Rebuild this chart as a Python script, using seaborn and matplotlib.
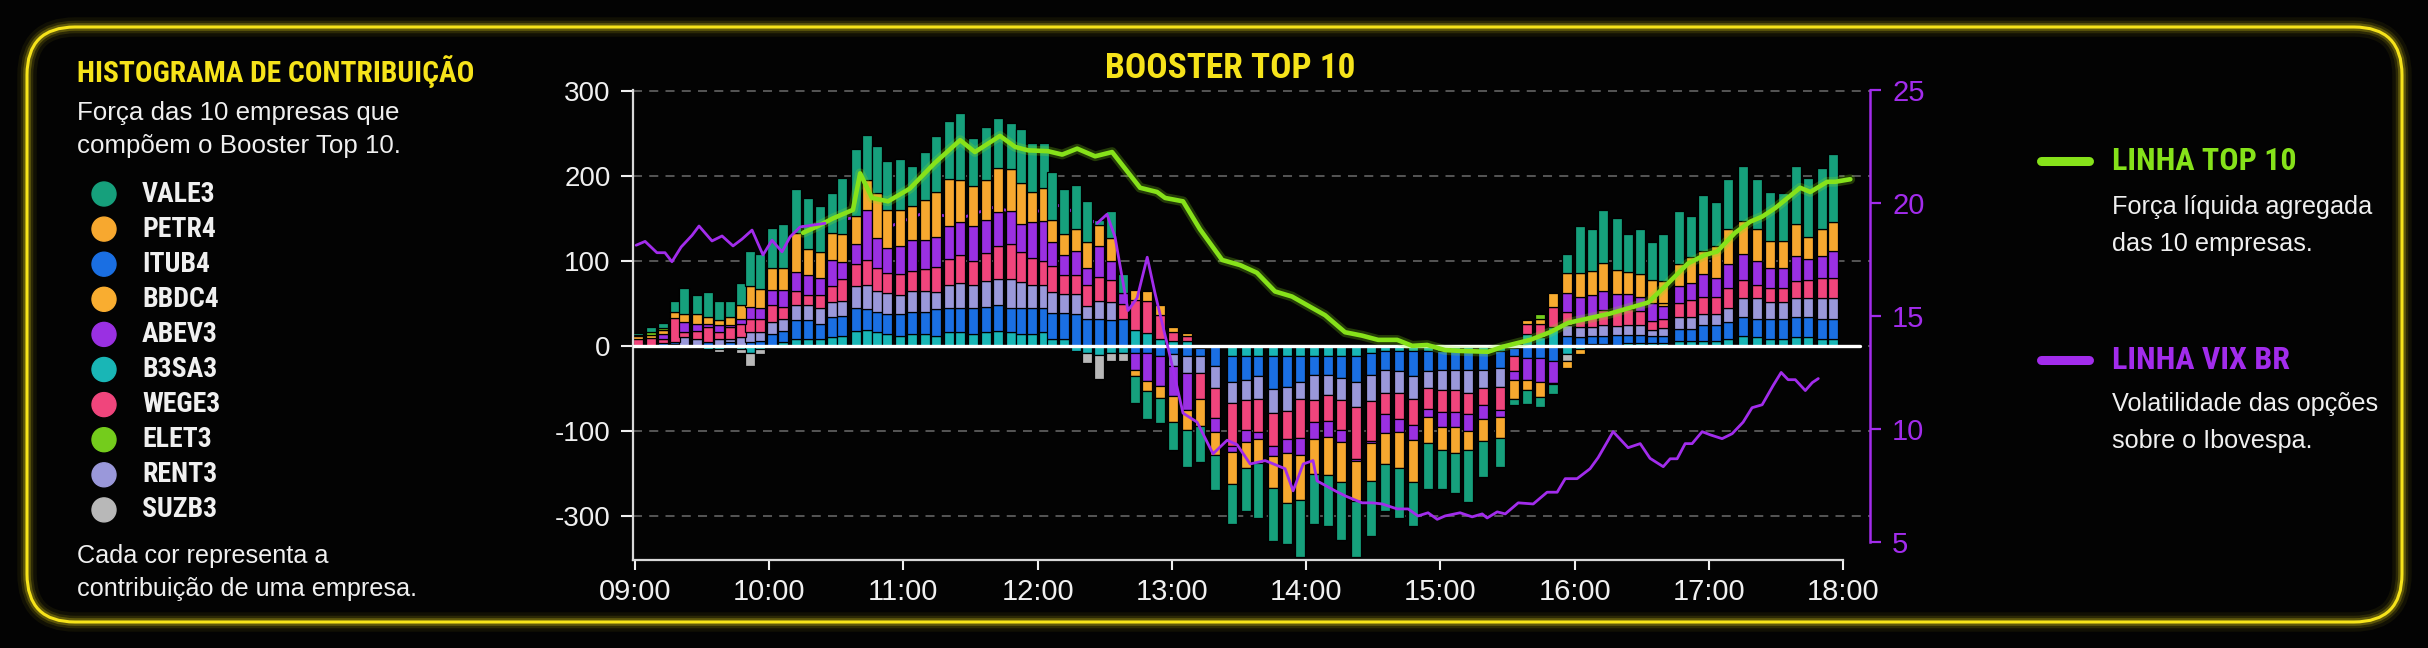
import numpy as np
import matplotlib
matplotlib.use("Agg")
import matplotlib.pyplot as plt
import seaborn as sns
import matplotlib.patheffects as pe
from matplotlib.patches import FancyBboxPatch, Circle
from matplotlib.lines import Line2D
from matplotlib.transforms import IdentityTransform
from matplotlib import font_manager as fm

# ---------------- DATA ----------------
companies = ["VALE3", "PETR4", "ITUB4", "BBDC4", "ABEV3", "B3SA3", "WEGE3", "ELET3", "RENT3", "SUZB3"]
company_colors = ["#16a07c", "#f7a82f", "#1a6fe3", "#f9ad30", "#9a30e2", "#19b6b6", "#f0457c", "#74cc1c", "#9a98da", "#b8b8b8"]
stack_order = ["B3SA3", "ITUB4", "RENT3", "SUZB3", "WEGE3", "ABEV3", "BBDC4", "PETR4", "ELET3", "VALE3"]

# bar times in minutes after 09:00
bar_minutes = [1.5, 7.3, 12.6, 18.0, 22.0, 27.8, 32.7, 37.7, 42.6, 47.5,
               51.5, 56.0, 61.3, 66.3, 72.1, 77.4, 82.8, 88.2, 92.6, 98.9,
               103.8, 108.3, 112.7, 118.5, 123.9, 129.7, 134.6, 140.4, 145.4, 151.2,
               157.0, 162.3, 168.2, 172.6, 177.5, 182.9, 186.5, 191.8, 197.2, 202.1,
               207.5, 212.9, 218.2, 223.6, 228.9, 234.7, 240.6, 246.8, 252.6, 259.3,
               266.9, 273.2, 278.5, 285.3, 291.5, 297.3, 303.6, 309.8, 315.6, 322.3,
               329.0, 335.3, 341.6, 347.8, 354.5, 360.8, 366.6, 372.4, 379.1, 386.7,
               393.0, 398.8, 404.6, 410.4, 416.7, 422.5, 427.8, 432.7, 439.0, 443.9,
               449.3, 454.6, 459.6, 466.7, 472.1, 477.4, 483.2, 488.6, 495.3, 501.6,
               507.4, 513.2, 519.0, 524.4, 530.6, 535.5]

B3SA3 = [0, 0, 0, 2, 0, 0, -4, -4, -3, -4,
         -8, -4, 0, 4, 8, 8, 8, 10, 12, 18,
         19, 16, 14, 12, 14, 14, 12, 16, 16, 14,
         16, 18, 16, 14, 14, 16, 8, 8, -6, -8,
         -11, -8, -8, 19, 15, 8, 6, 6, -2, 0,
         -12, -12, -12, -12, -12, -12, -12, -12, -12, -12,
         -8, -6, -6, -6, -6, -6, -6, -6, -6, -6,
         -2, 14, 10, 22, -10, -4, 2, 2, 1, 3,
         3, 3, 3, 6, 6, 6, 6, 8, 12, 10,
         8, 8, 10, 10, 8, 8]
ITUB4 = [0, 0, 3, 3, 0, 0, 4, 0, 4, 0,
         4, 6, 14, 14, 22, 22, 18, 24, 23, 26,
         24, 24, 24, 26, 26, 26, 31, 28, 28, 30,
         30, 30, 28, 30, 30, 28, 31, 31, 37, 31,
         31, 30, 31, -8, -8, -12, -10, -12, -10, -24,
         -31, -28, -24, -39, -37, -31, -22, -22, -26, -30,
         -26, -22, -24, -30, -24, -22, -22, -22, -22, -20,
         -10, -14, -14, -18, 12, 10, 10, 10, 12, 10,
         10, 8, 8, 14, 14, 18, 18, 20, 22, 22,
         24, 24, 24, 24, 24, 24]
RENT3 = [0, 0, 0, 0, 10, 8, 0, 8, 4, 10,
         12, 10, 14, 14, 18, 18, 18, 18, 18, 26,
         28, 24, 24, 22, 24, 24, 20, 28, 30, 28,
         30, 31, 35, 31, 28, 28, 24, 22, 24, 16,
         22, 22, 0, 0, 0, 0, -14, -20, -20, -26,
         -24, -24, -26, -28, -28, -20, -30, -24, -26, -30,
         -31, -28, -26, -26, -20, -24, -24, -28, -22, -22,
         0, 0, 0, 0, 12, 12, 10, 12, 10, 12,
         12, 8, 10, 14, 14, 14, 14, 16, 22, 24,
         20, 20, 22, 22, 24, 24]
SUZB3 = [0, 0, 0, 0, 0, 0, 0, -3, 0, -4,
         -16, -6, 0, 0, 0, 0, 0, 0, 0, 0,
         0, 0, 0, 0, 0, 0, 0, 0, 0, 0,
         0, 0, 0, 0, 0, 0, 0, 0, 0, -12,
         -28, -10, -10, 0, 0, 0, 0, 0, 0, 0,
         0, 0, 0, 0, 0, 0, 0, 0, 0, 0,
         0, 0, 0, 0, 0, 0, 0, 0, 0, 0,
         0, 0, 0, 0, -8, 0, 0, 0, 0, 0,
         0, 0, 0, 0, 0, 0, 0, 0, 0, 0,
         0, 0, 0, 0, 0, 0]
WEGE3 = [8, 9, 5, 28, 6, 10, 18, 8, 14, 16,
         16, 15, 20, 14, 16, 12, 16, 18, 26, 26,
         30, 28, 24, 24, 24, 26, 30, 30, 33, 28,
         33, 39, 41, 35, 31, 28, 31, 22, 22, 24,
         28, 26, 18, 35, 38, 28, 10, 6, -31, -35,
         -51, -35, -39, -39, -33, -45, -26, -31, -35, -61,
         -47, -24, -30, -31, -24, -26, -26, -24, -20, -28,
         -18, 12, 16, 24, 16, 10, 12, 18, 18, 18,
         16, 10, 10, 16, 20, 20, 20, 24, 22, 16,
         16, 16, 20, 22, 24, 24]
ABEV3 = [0, 0, 6, 0, 12, 8, 4, 8, 2, 6,
         14, 13, 18, 20, 23, 23, 20, 31, 20, 24,
         59, 35, 29, 33, 37, 35, 35, 39, 39, 41,
         39, 39, 39, 33, 43, 47, 28, 24, 28, 20,
         37, 22, 13, -20, -33, -35, -35, -43, 0, -16,
         -7, -14, -9, -12, -16, -20, -20, -18, -14, -3,
         -2, -22, -15, -18, -10, -18, -18, -20, -16, -8,
         -10, -26, -28, -26, 22, 26, 26, 22, 20, 18,
         16, 21, 16, 20, 20, 26, 22, 28, 30, 28,
         24, 24, 30, 24, 26, 31]
BBDC4 = [0, 0, 0, 0, 0, 0, 0, 0, 0, 0,
         0, 0, 0, 0, 0, 0, 0, 0, 0, 0,
         0, 0, 0, 0, 0, 0, 0, 0, 0, 0,
         0, 0, 0, 0, 0, 0, 0, 0, 0, 0,
         0, 0, 0, 12, 12, 12, 6, 3, 0, 0,
         0, 0, 0, 0, 0, 0, 0, 0, 0, 0,
         0, 0, 0, 0, 0, 0, 0, 0, 0, 0,
         0, 4, 5, 16, -8, -6, 0, 0, 0, 0,
         0, 0, 3, 0, 0, 0, 0, 0, 0, 0,
         0, 0, 0, 0, 0, 0]
PETR4 = [3, 4, 5, 7, 10, 11, 8, 6, 10, 16,
         24, 23, 26, 26, 46, 31, 30, 32, 33, 33,
         35, 53, 45, 43, 39, 47, 53, 55, 49, 47,
         47, 52, 49, 49, 35, 39, 26, 25, 27, 31,
         24, 27, 0, -8, -12, -14, -31, -24, -31, -28,
         -37, -31, -28, -37, -59, -53, -41, -45, -47, -47,
         -45, -37, -43, -49, -30, -26, -30, -22, -26, -24,
         -22, -12, -18, -1, 24, 28, 28, 34, 28, 26,
         28, 27, 26, 26, 30, 28, 37, 41, 39, 37,
         31, 31, 37, 26, 31, 35]
ELET3 = [2, 3, 2, 0, 0, 0, 0, 0, 0, 0,
         0, 0, 0, 0, 0, 0, 0, 0, 0, 0,
         0, 0, 0, 0, 0, 0, 0, 0, 0, 0,
         0, 0, 0, 0, 0, 0, 0, 0, 0, 0,
         0, 0, 0, 0, 0, 0, 0, 0, 0, 0,
         0, 0, 0, 0, 0, 0, 0, 0, 0, 0,
         0, 0, 0, 0, 0, 0, 0, 0, 0, 0,
         0, 0, 6, 0, 0, 0, 0, 0, 0, 0,
         0, 0, 0, 0, 0, 0, 0, 0, 0, 0,
         0, 0, 0, 0, 0, 0]
VALE3 = [2, 6, 6, 13, 30, 23, 29, 23, 19, 26,
         42, 41, 47, 51, 52, 60, 54, 47, 66, 79,
         53, 55, 57, 60, 48, 56, 66, 69, 79, 57,
         62, 59, 54, 63, 58, 53, 56, 52, 51, 48,
         6, 32, 23, -31, -33, -30, -33, -44, -43, -41,
         -48, -50, -64, -63, -48, -68, -59, -60, -68, -65,
         -65, -55, -58, -52, -55, -47, -47, -62, -42, -34,
         -8, -16, -12, -12, 22, 55, 50, 62, 61, 45,
         53, 45, 56, 63, 49, 66, 52, 59, 65, 59,
         58, 57, 69, 69, 72, 80]

# LINHA TOP 10 (left axis)
top10_minutes = [75.2, 81.9, 88.6, 97.5, 100.7, 106.0, 113.2, 122.9, 134.0, 145.4,
                 152.0, 163.2, 170.0, 175.8, 184.7, 191.0, 197.7, 205.7, 213.3, 225.8,
                 233.4, 237.0, 245.0, 252.6, 262.5, 270.5, 278.0, 286.1, 293.7, 300.4,
                 308.5, 317.4, 325.0, 332.2, 340.7, 347.4, 354.1, 362.1, 368.8, 381.3,
                 388.0, 400.1, 409.0, 417.1, 435.9, 452.9, 460.4, 470.7, 478.3, 483.7,
                 491.7, 498.4, 503.8, 509.6, 520.8, 525.3, 532.9, 536.5, 543.2]
top10_values = [133, 141, 150, 160, 203, 174, 170, 185, 215, 242,
                228, 247, 234, 230, 229, 225, 232, 223, 228, 186,
                181, 174, 170, 137, 101, 95, 86, 64, 58, 48,
                36, 16, 12, 7, 7, 0, 1, -5, -6, -7,
                -1, 7, 16, 27, 38, 51, 70, 97, 107, 111,
                133, 146, 152, 162, 186, 181, 193, 193, 196]

# LINHA VIX BR (right axis)
vix_minutes = [0.6, 4.6, 9.9, 13.5, 16.6, 20.7, 25.6, 28.7, 34.5, 39.0,
               43.9, 47.9, 52.4, 57.3, 61.3, 65.8, 69.4, 73.9, 85.0, 100.0,
               115.0, 130.0, 145.0, 160.0, 175.0, 190.0, 206.6, 211.0, 214.6, 220.4,
               224.5, 229.0, 232.5, 238.3, 245.0, 251.3, 258.4, 264.7, 269.2, 275.0,
               281.7, 290.6, 294.2, 298.7, 303.1, 304.9, 313.0, 317.4, 325.0, 329.5,
               334.0, 340.7, 345.6, 350.0, 354.5, 358.6, 362.1, 368.8, 374.2, 378.7,
               380.9, 385.4, 389.0, 394.8, 401.5, 407.7, 412.2, 415.8, 421.1, 426.9,
               430.5, 437.2, 443.9, 449.3, 453.7, 459.6, 462.7, 465.8, 469.4, 472.5,
               477.0, 480.6, 485.9, 490.4, 495.3, 499.3, 503.8, 508.7, 512.3, 515.4,
               518.6, 523.1, 526.2, 528.9]
vix_values = [18.13, 18.3, 17.8, 17.8, 17.4, 18.05, 18.57, 18.98, 18.32, 18.54,
              18.1, 18.4, 18.8, 17.7, 18.35, 17.84, 18.5, 18.94, 19.1, 19.4,
              19.0, 19.6, 19.3, 19.8, 19.5, 19.9, 19.1, 19.5, 18.5, 15.24,
              15.8, 17.6, 16.0, 13.6, 10.7, 10.3, 8.9, 9.5, 9.3, 8.45,
              8.6, 8.24, 7.26, 8.45, 8.6, 7.7, 7.26, 7.04, 6.73, 6.73,
              6.68, 6.46, 6.46, 6.15, 6.29, 6.0, 6.15, 6.29, 6.11, 6.24,
              6.06, 6.33, 6.24, 6.73, 6.68, 7.2, 7.2, 7.8, 7.8, 8.24,
              8.73, 9.88, 9.17, 9.35, 8.7, 8.33, 8.68, 8.68, 9.35, 9.35,
              9.88, 9.74, 9.57, 9.79, 10.3, 10.94, 11.07, 11.92, 12.5, 12.18,
              12.18, 11.7, 12.05, 12.23]

left_ticks = [300, 200, 100, 0, -100, -200]
left_tick_labels = ["300", "200", "100", "0", "-100", "-300"]
right_ticks = [5, 10, 15, 20, 25]
hour_ticks = [0, 60, 120, 180, 240, 300, 360, 420, 480, 540]
hour_labels = ["09:00", "10:00", "11:00", "12:00", "13:00", "14:00", "15:00", "16:00", "17:00", "18:00"]

series = {"B3SA3": B3SA3, "ITUB4": ITUB4, "RENT3": RENT3, "SUZB3": SUZB3, "WEGE3": WEGE3,
          "ABEV3": ABEV3, "BBDC4": BBDC4, "PETR4": PETR4, "ELET3": ELET3, "VALE3": VALE3}
color_of = dict(zip(companies, company_colors))

# ---------------- STYLE ----------------
sns.set_theme(style="dark")
plt.rcParams["font.family"] = ["Liberation Sans", "DejaVu Sans"]

names = {f.name for f in fm.fontManager.ttflist}
COND = None
for cand in ["Roboto Condensed", "Liberation Sans Narrow", "Open Sans Condensed", "DejaVu Sans Condensed"]:
    if cand in names:
        COND = cand
        break
cscale = 1.0
if COND is None:
    COND = "DejaVu Sans"
    cscale = 0.8

BG = "#030303"
YEL = "#f6e31a"
LIME = "#86e21a"
PURP = "#a22cec"
WHITE = "#f0f0f0"

W, H = 2428, 648
fig = plt.figure(figsize=(W / 100, H / 100), dpi=100, facecolor=BG)

rect = [633 / W, (H - 560) / H, (1870 - 633) / W, (560 - 90) / H]
ax = fig.add_axes(rect)
ax_low = ax.twinx()
ax_vix = ax.twinx()
ax_low.set_zorder(0)
ax.set_zorder(1)
ax_vix.set_zorder(2)
ax_low.set_facecolor(BG)
ax.patch.set_visible(False)
ax_vix.patch.set_visible(False)

# ---------------- BARS ----------------
x = np.array(bar_minutes)
pos_b = np.zeros(len(x))
neg_b = np.zeros(len(x))
bw = 4.5
for c in stack_order:
    v = np.array(series[c], dtype=float)
    p = np.clip(v, 0, None)
    q = np.clip(v, None, 0)
    mp = p > 0
    mq = q < 0
    if mp.any():
        ax.bar(x[mp], p[mp], width=bw, bottom=pos_b[mp], color=color_of[c],
               edgecolor="#000000", linewidth=0.9, zorder=2)
    if mq.any():
        ax.bar(x[mq], q[mq], width=bw, bottom=neg_b[mq], color=color_of[c],
               edgecolor="#000000", linewidth=0.9, zorder=2)
    pos_b += p
    neg_b += q

ax.axhline(0, color="white", lw=2.4, zorder=4, xmax=0.992)

# LINHA TOP 10
sns.lineplot(x=top10_minutes, y=top10_values, ax=ax, color=LIME, lw=3.3, zorder=6,
             path_effects=[pe.Stroke(linewidth=7, foreground=LIME, alpha=0.25), pe.Normal()])

# LINHA VIX BR: the middle stretch is drawn behind the bars, as in the reference
vm = np.array(vix_minutes)
vv = np.array(vix_values)
front1 = vm <= 85
hidden = (vm >= 73.9) & (vm <= 206.6)
front2 = vm >= 206.6
sns.lineplot(x=vm[front1], y=vv[front1], ax=ax_vix, color=PURP, lw=2.0)
sns.lineplot(x=vm[hidden], y=vv[hidden], ax=ax_low, color=PURP, lw=2.0)
sns.lineplot(x=vm[front2], y=vv[front2], ax=ax_vix, color=PURP, lw=2.0)

# ---------------- AXES ----------------
ax.set_xlim(-0.8, 552)
ax.set_ylim(-252, 301)
for a in (ax_low, ax_vix):
    a.set_ylim(4.2, 25)

ax.set_yticks(left_ticks)
ax.set_yticklabels(left_tick_labels)
ax.set_xticks(hour_ticks)
ax.set_xticklabels(hour_labels)
ax.set_xlabel("")
ax.set_ylabel("")
ax.grid(False)
ax.yaxis.grid(True, color="#5c5c5c", linestyle=(0, (5, 4)), linewidth=1.3)
ax.set_axisbelow(True)
ax.tick_params(axis="y", colors=WHITE, labelsize=20, length=9, width=1.5, pad=7, left=True, direction="out")
ax.tick_params(axis="x", colors=WHITE, labelsize=21, length=7, width=1.5, pad=6, bottom=True, direction="out")
for lab in ax.get_xticklabels() + ax.get_yticklabels():
    lab.set_color(WHITE)
for s in ["top", "right"]:
    ax.spines[s].set_visible(False)
ax.spines["left"].set_color("#d8d8d8")
ax.spines["left"].set_linewidth(1.6)
ax.spines["bottom"].set_color("#d8d8d8")
ax.spines["bottom"].set_linewidth(1.6)
ax.spines["bottom"].set_bounds(-0.8, 540)

ax_low.set_yticks([])
ax_low.grid(False)
for s in ax_low.spines.values():
    s.set_visible(False)
ax_low.set_ylabel("")

ax_vix.grid(False)
for s in ["top", "left", "bottom"]:
    ax_vix.spines[s].set_visible(False)
ax_vix.spines["right"].set_color(PURP)
ax_vix.spines["right"].set_linewidth(1.8)
ax_vix.spines["right"].set_bounds(5, 25)
ax_vix.set_yticks(right_ticks)
ax_vix.set_yticklabels([str(t) for t in right_ticks])
ax_vix.tick_params(axis="y", colors=PURP, labelsize=21, length=8, width=1.6, pad=8, right=True, direction="out")
ax_vix.set_ylabel("")

# ---------------- FRAME ----------------
idt = IdentityTransform()
for lw, al in [(14, 0.06), (9, 0.12), (5.5, 0.25)]:
    fig.add_artist(FancyBboxPatch((27, H - 622), 2375, 595, boxstyle="round,pad=0,rounding_size=48",
                                  transform=idt, fill=False, edgecolor=YEL, lw=lw, alpha=al))
fig.add_artist(FancyBboxPatch((27, H - 622), 2375, 595, boxstyle="round,pad=0,rounding_size=48",
                              transform=idt, fill=False, edgecolor=YEL, lw=2.2))


def ftxt(px, py, s, **kw):
    return fig.text(px / W, 1 - py / H, s, va="center", **kw)


# ---------------- TEXTS ----------------
ftxt(1230, 68, "BOOSTER TOP 10", ha="center", color=YEL, fontsize=25.5 * cscale,
     family=[COND, "DejaVu Sans"], fontweight="bold")

ftxt(77, 72, "HISTOGRAMA DE CONTRIBUIÇÃO", color=YEL, fontsize=21.2 * cscale,
     family=[COND, "DejaVu Sans"], fontweight="bold")
ftxt(77, 113, "Força das 10 empresas que", color=WHITE, fontsize=18.6)
ftxt(77, 146, "compõem o Booster Top 10.", color=WHITE, fontsize=18.6)

for i, (c, col) in enumerate(zip(companies, company_colors)):
    yy = 194 + 35.1 * i
    fig.add_artist(Circle((104, H - yy), 12, transform=idt, color=col))
    ftxt(142, yy, c, color=WHITE, fontsize=20 * cscale, family=[COND, "DejaVu Sans"], fontweight="bold")

ftxt(77, 556, "Cada cor representa a", color=WHITE, fontsize=18.2)
ftxt(77, 589, "contribuição de uma empresa.", color=WHITE, fontsize=18.2)

fig.add_artist(Line2D([2041, 2089], [H - 161, H - 161], transform=idt, color=LIME, lw=6.5,
                      solid_capstyle="round"))
ftxt(2112, 161, "LINHA TOP 10", color=LIME, fontsize=23 * cscale, family=[COND, "DejaVu Sans"], fontweight="bold")
ftxt(2112, 207, "Força líquida agregada", color=WHITE, fontsize=18.2)
ftxt(2112, 244, "das 10 empresas.", color=WHITE, fontsize=18.2)

fig.add_artist(Line2D([2041, 2089], [H - 360, H - 360], transform=idt, color=PURP, lw=6.5,
                      solid_capstyle="round"))
ftxt(2112, 360, "LINHA VIX BR", color=PURP, fontsize=23 * cscale, family=[COND, "DejaVu Sans"], fontweight="bold")
ftxt(2112, 404, "Volatilidade das opções", color=WHITE, fontsize=18.2)
ftxt(2112, 441, "sobre o Ibovespa.", color=WHITE, fontsize=18.2)

fig.savefig("out.png", dpi=100, facecolor=BG)
